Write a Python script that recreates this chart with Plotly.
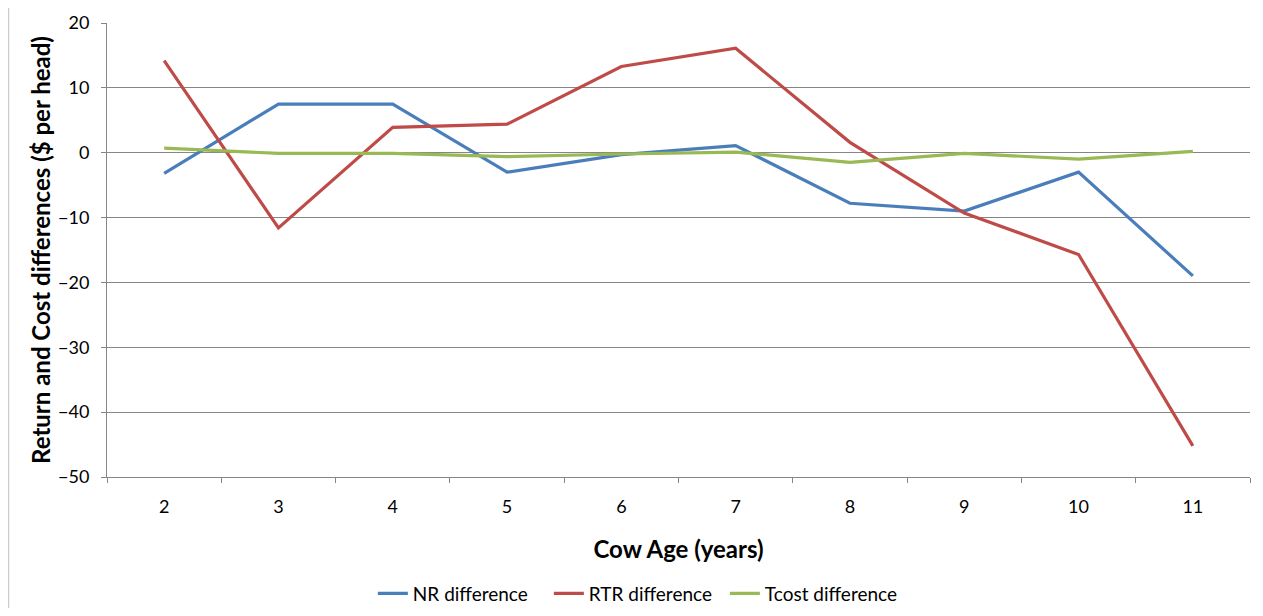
import plotly.graph_objects as go

ages = ["2", "3", "4", "5", "6", "7", "8", "9", "10", "11"]
nr_diff = [-3.2, 7.5, 7.5, -3.0, -0.3, 1.1, -7.8, -9.0, -3.0, -19.0]
rtr_diff = [14.2, -11.6, 3.9, 4.4, 13.3, 16.1, 1.6, -9.3, -15.7, -45.2]
tcost_diff = [0.7, -0.1, -0.1, -0.6, -0.2, 0.1, -1.5, -0.1, -1.0, 0.2]

series = [
    ("NR difference", nr_diff, "#4A7EBB"),
    ("RTR difference", rtr_diff, "#BE4B48"),
    ("Tcost difference", tcost_diff, "#98B954"),
]

font = "Lato, Open Sans, sans-serif"
fig = go.Figure()
for name, vals, color in series:
    fig.add_trace(go.Scatter(x=ages, y=vals, mode="lines", name=name,
                             line=dict(color=color, width=3.2)))

fig.update_layout(
    width=1247, height=600,
    margin=dict(l=99, r=5, t=15, b=131, autoexpand=False),
    paper_bgcolor="white", plot_bgcolor="white",
    font=dict(family=font, size=18, color="black"),
    showlegend=True,
    legend=dict(orientation="h", x=0.2326, xanchor="left", y=-0.215, yanchor="top",
                font=dict(size=19), itemwidth=30, tracegroupgap=0,
                entrywidth=131, entrywidthmode="pixels"),
    xaxis=dict(type="category", range=[-0.5, 9.5], tickson="boundaries", ticks="outside", ticklen=5,
               tickcolor="#868686", showline=True, linecolor="#868686", linewidth=1,
               showgrid=False, tickfont=dict(size=18), ticklabelstandoff=13,
               title=dict(text="<b>Cow Age (years)</b>", font=dict(size=24), standoff=25)),
    yaxis=dict(range=[-50, 20], dtick=10, ticks="outside", ticklen=5, tickcolor="#868686",
               showline=True, linecolor="#868686", linewidth=1, showgrid=True,
               gridcolor="#868686", gridwidth=1, zeroline=False, tickfont=dict(size=18),
               ticklabelstandoff=8,
               title=dict(text="<b>Return and Cost differences ($ per head)</b>",
                          font=dict(size=24), standoff=0)),
    shapes=[dict(type="rect", xref="paper", yref="paper", x0=-0.086, x1=1.0105,
                 y0=-0.302, y1=1.037, line=dict(color="#BFBFBF", width=1), layer="below")],
)

fig.write_html("out.html")
